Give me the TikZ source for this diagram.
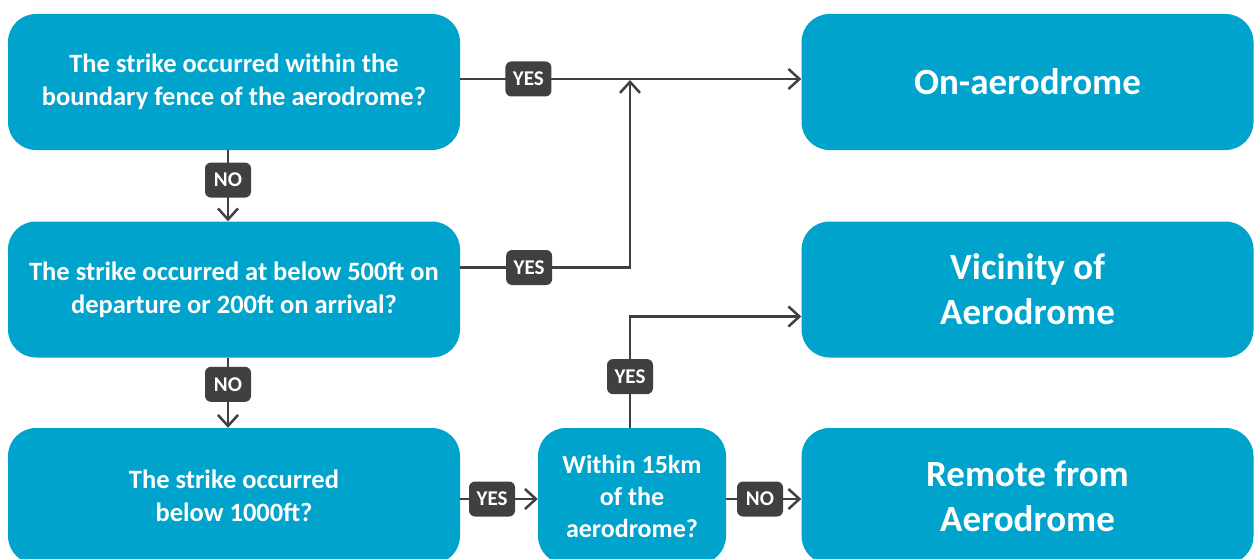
\documentclass[tikz,border=0pt]{standalone}
\usepackage{fontspec}
\setmainfont{Carlito}
\usetikzlibrary{positioning,arrows.meta}
\definecolor{boxblue}{HTML}{00A3CB}
\definecolor{tagdark}{HTML}{404040}

\tikzset{
  decision/.style={draw=none, fill=boxblue, text=white, rounded corners=28pt,
    minimum width=452pt, minimum height=136pt, align=center,
    font=\fontsize{26.5}{33}\selectfont\bfseries},
  outcome/.style={decision, font=\fontsize{37}{45}\selectfont\bfseries},
  tag/.style={fill=tagdark, text=white, rounded corners=6pt, inner sep=0pt,
    minimum width=46pt, minimum height=35pt, font=\fontsize{21}{21}\selectfont\bfseries},
  flow/.style={->, draw=tagdark, line width=2.5pt}
}

\begin{document}
\begin{tikzpicture}[x=1pt, y=-1pt, >={Straight Barb[length=11pt,width=20pt]}]
  \clip (0,0) rectangle (1255,559);

  % questions
  \node[decision] (q1) at (234,82) {The strike occurred within the\\boundary fence of the aerodrome?};
  \node[decision] (q2) at (234,289.5) {The strike occurred at below 500ft on\\departure or 200ft on arrival?};
  \node[decision] (q3) at (234,496) {The strike occurred\\below 1000ft?};
  \node[decision, minimum width=188pt,
        font=\fontsize{26}{32}\selectfont\bfseries] (q4) at (632,496) {Within 15km\\of the\\aerodrome?};

  % outcomes
  \node[outcome] (a1) at (1027.5,82) {On-aerodrome};
  \node[outcome] (a2) at (1027.5,289.5) {Vicinity of\\Aerodrome};
  \node[outcome] (a3) at (1027.5,496) {Remote from\\Aerodrome};

  \coordinate (merge) at (630,80);

  \draw[flow] ([yshift=3pt]q1.east) -- node[tag, pos=0.2] {YES} ([yshift=3pt]a1.west);
  \draw[flow] ([yshift=22pt]q2.east) -| node[tag, pos=0.203] {YES} (merge);
  \draw[flow] ([xshift=-6pt]q1.south) -- node[tag, pos=0.42] {NO} ([xshift=-6pt]q2.north);
  \draw[flow] ([xshift=-6pt]q2.south) -- node[tag, pos=0.38] {NO} ([xshift=-6pt]q3.north);
  \draw[flow] ([yshift=-3pt]q3.east) -- node[tag, pos=0.41] {YES} ([yshift=-3pt]q4.west);
  \draw[flow] ([yshift=-3pt]q4.east) -- node[tag, pos=0.45] {NO} ([yshift=-3pt]a3.west);
  \draw[flow] ([xshift=-2pt]q4.north) |- node[tag, pos=0.23] {YES} ([yshift=-27pt]a2.west);
\end{tikzpicture}
\end{document}
